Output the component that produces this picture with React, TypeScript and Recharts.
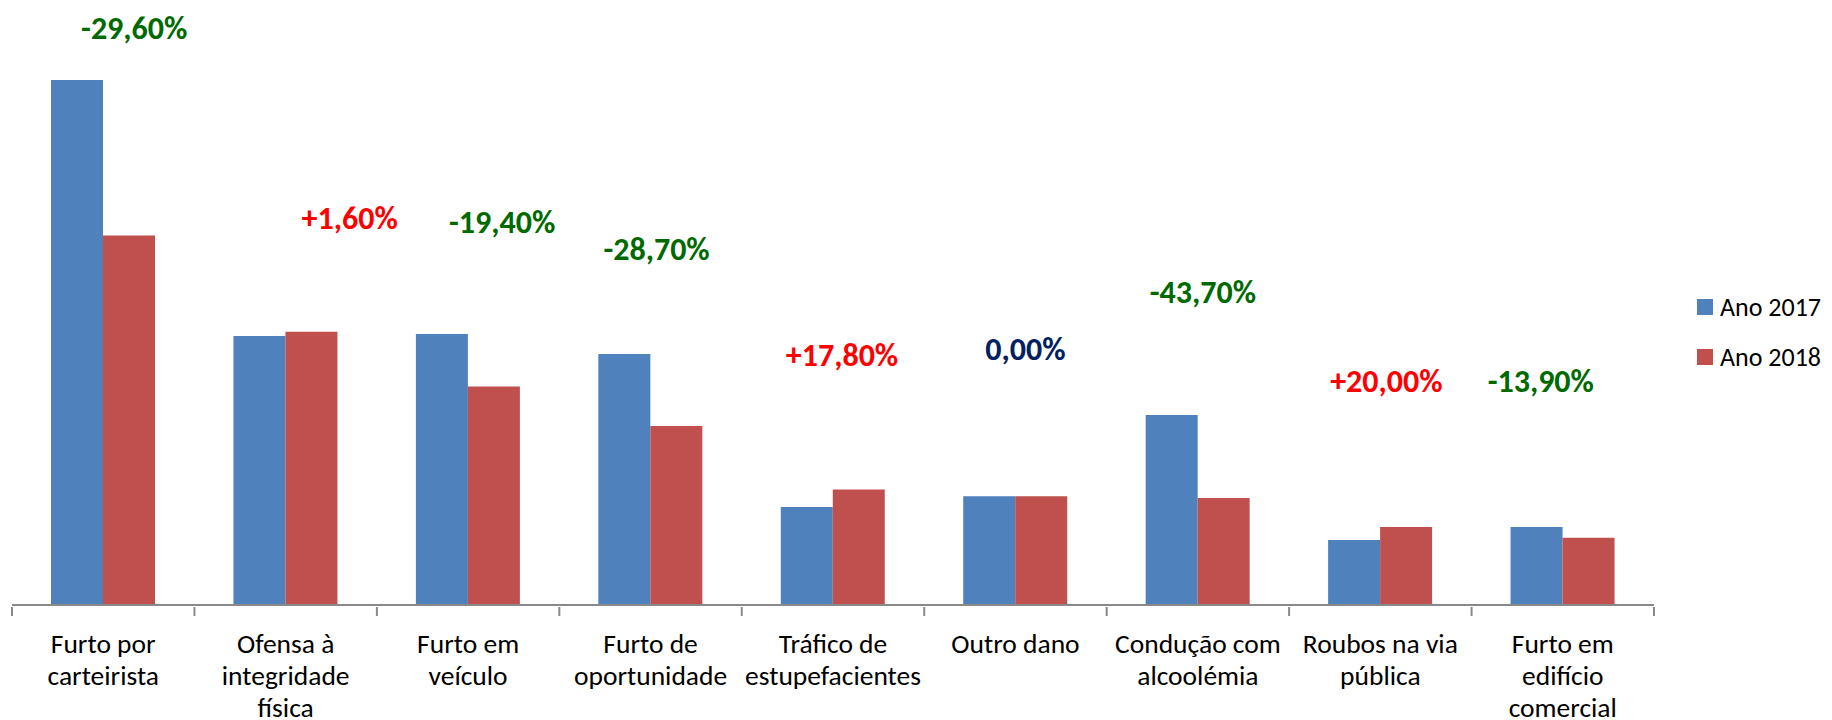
import React from "react";
import { ComposedChart, Bar, XAxis, YAxis, ReferenceDot } from "recharts";

const categories = [
  "Furto por|carteirista",
  "Ofensa à|integridade|física",
  "Furto em|veículo",
  "Furto de|oportunidade",
  "Tráfico de|estupefacientes",
  "Outro dano",
  "Condução com|alcoolémia",
  "Roubos na via|pública",
  "Furto em|edifício|comercial",
];
const ano2017 = [525, 269, 271, 251, 98, 108.7, 190, 65, 78];
const ano2018 = [369.6, 273.3, 218.4, 179, 115.4, 108.7, 107, 78, 67.2];
const changeLabels = ["-29,60%", "+1,60%", "-19,40%", "-28,70%", "+17,80%", "0,00%", "-43,70%", "+20,00%", "-13,90%"];
const changeKind = ["down", "up", "down", "down", "up", "flat", "down", "up", "down"];
const changeLabelHeight = [577, 387, 383, 356, 250, 256, 313, 224, 224];
const seriesNames = ["Ano 2017", "Ano 2018"];

const LABEL_DX = [31, 64, 34, 6, 9, 10, 5, 6, -22];
const KIND_COLOR: Record<string, string> = { down: "#006A00", up: "#FF0000", flat: "#002060" };
const BLUE = "#4F81BD";
const RED = "#C0504D";
const FONT = "Carlito, Calibri, Lato, sans-serif";

const data = categories.map((c, i) => ({
  name: c,
  a2017: ano2017[i],
  a2018: ano2018[i],
}));

const W = 1832;
const H = 720;
const AXIS_H = 115;
const M = { top: 5, right: 178, bottom: 0, left: 12 };
const BAND = (W - M.left - M.right) / categories.length;

const Tick = (props: any) => {
  const { x, y, payload, index } = props;
  const lines = String(payload.value).split("|");
  return (
    <g>
      <line x1={x - BAND / 2} x2={x - BAND / 2} y1={y - 8} y2={y + 1} stroke="#898989" strokeWidth={2} />
      {index === categories.length - 1 && (
        <line x1={x + BAND / 2} x2={x + BAND / 2} y1={y - 8} y2={y + 1} stroke="#898989" strokeWidth={2} />
      )}
      <text x={x} y={y + 38} textAnchor="middle" fontFamily={FONT} fontSize={27.5} fill="#000">
        {lines.map((l, i) => (
          <tspan key={i} x={x} dy={i === 0 ? 0 : 32}>
            {l}
          </tspan>
        ))}
      </text>
    </g>
  );
};

export default function App() {
  return (
    <div style={{ position: "absolute", left: 0, top: 0, width: W, height: H, background: "#fff" }}>
      <ComposedChart width={W} height={H} data={data} margin={M} barSize={52} barGap={0}>
        <XAxis
          dataKey="name"
          interval={0}
          tick={<Tick />}
          tickLine={false}
          axisLine={{ stroke: "#898989", strokeWidth: 2 }}
          height={AXIS_H}
          tickSize={8}
        />
        <YAxis hide domain={[0, 600]} />
        <Bar dataKey="a2017" name={seriesNames[0]} fill={BLUE} isAnimationActive={false} />
        <Bar dataKey="a2018" name={seriesNames[1]} fill={RED} isAnimationActive={false} />
        {categories.map((c, i) => (
          <ReferenceDot
            key={i}
            x={c}
            y={changeLabelHeight[i]}
            r={0}
            ifOverflow="visible"
            shape={(p: any) => (
              <text
                x={p.cx + LABEL_DX[i]}
                y={p.cy}
                textAnchor="middle"
                dominantBaseline="central"
                fontFamily={FONT}
                fontWeight="bold"
                fontSize={32}
                fill={KIND_COLOR[changeKind[i]]}
              >
                {changeLabels[i]}
              </text>
            )}
          />
        ))}
      </ComposedChart>
      <div
        style={{
          position: "absolute",
          left: 1697,
          top: 282,
          fontFamily: FONT,
          fontSize: 26,
          color: "#000",
        }}
      >
        {[
          [seriesNames[0], BLUE],
          [seriesNames[1], RED],
        ].map(([t, c], i) => (
          <div key={i} style={{ display: "flex", alignItems: "center", height: 50 }}>
            <div style={{ width: 16, height: 16, background: c, marginRight: 7 }} />
            <span>{t}</span>
          </div>
        ))}
      </div>
    </div>
  );
}
